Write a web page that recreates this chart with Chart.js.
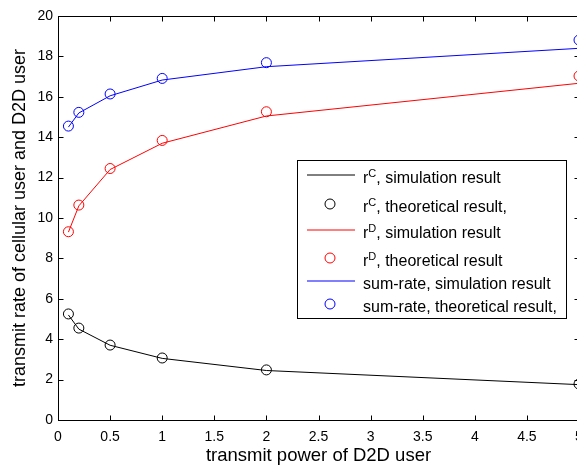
<!DOCTYPE html>
<html>
<head>
<meta charset="utf-8">
<title>Transmit rate vs D2D transmit power</title>
<script src="https://cdn.jsdelivr.net/npm/chart.js@4.4.0/dist/chart.umd.min.js"></script>
<style>
    html, body { margin: 0; padding: 0; background: #fff; overflow: hidden; }
    #wrap { width: 585px; height: 467px; }
</style>
</head>
<body>
<div id="wrap"><canvas id="rateChart" width="585" height="467"></canvas></div>
<script>
// transmit power of the D2D user
const powers = [0.1, 0.2, 0.5, 1, 2, 5];

// cellular user rate r^C
const rcSimulation = [5.2, 4.5, 3.7, 3.05, 2.45, 1.75];
const rcTheory = [5.25, 4.55, 3.71, 3.07, 2.48, 1.78];

// D2D user rate r^D
const rdSimulation = [9.3, 10.6, 12.4, 13.7, 15.05, 16.67];
const rdTheory = [9.32, 10.64, 12.45, 13.84, 15.26, 17.03];

// sum-rate
const sumSimulation = [14.5, 15.2, 16.05, 16.83, 17.49, 18.4];
const sumTheory = [14.55, 15.23, 16.14, 16.91, 17.69, 18.81];

const xTickValues = [0, 0.5, 1, 1.5, 2, 2.5, 3, 3.5, 4, 4.5, 5];
const yTickValues = [0, 2, 4, 6, 8, 10, 12, 14, 16, 18, 20];

// legend text split as [base, superscript, rest]
const legendLabels = [
    ['r', 'C', ', simulation result'],
    ['r', 'C', ', theoretical result,'],
    ['r', 'D', ', simulation result'],
    ['r', 'D', ', theoretical result'],
    ['sum-rate, simulation result', '', ''],
    ['sum-rate, theoretical result,', '', '']
];

const FONT = "'Liberation Sans', Arial, Helvetica, sans-serif";

function points(values) {
    return powers.map((p, i) => ({ x: p, y: values[i] }));
}

function simLine(values, color, i) {
    return {
        label: legendLabels[i].join(''),
        data: points(values),
        showLine: true,
        borderColor: color,
        borderWidth: 1,
        pointRadius: 0,
        tension: 0,
        swatch: color
    };
}

function theoryMarks(values, color, i) {
    return {
        label: legendLabels[i].join(''),
        data: points(values),
        showLine: false,
        pointStyle: 'circle',
        pointRadius: 5,
        pointBorderWidth: 1,
        pointBorderColor: color,
        pointBackgroundColor: 'rgba(0,0,0,0)',
        clip: false,
        swatch: color
    };
}

// box with inward ticks on all four sides, plus the boxed legend
const matlabFrame = {
    id: 'matlabFrame',
    afterDraw(chart) {
        const ctx = chart.ctx;
        const { left, right, top, bottom } = chart.chartArea;
        const xs = chart.scales.x;
        const ys = chart.scales.y;
        const tick = 5;

        ctx.save();
        ctx.strokeStyle = '#000';
        ctx.lineWidth = 1;
        const l = Math.round(left) + 0.5, r = Math.round(right) + 0.5;
        const t = Math.round(top) + 0.5, b = Math.round(bottom) + 0.5;
        ctx.strokeRect(l, t, r - l, b - t);

        ctx.beginPath();
        xTickValues.forEach(v => {
            const px = Math.round(xs.getPixelForValue(v)) + 0.5;
            ctx.moveTo(px, b); ctx.lineTo(px, b - tick);
            ctx.moveTo(px, t); ctx.lineTo(px, t + tick);
        });
        yTickValues.forEach(v => {
            const py = Math.round(ys.getPixelForValue(v)) + 0.5;
            ctx.moveTo(l, py); ctx.lineTo(l + tick, py);
            ctx.moveTo(r, py); ctx.lineTo(r - tick, py);
        });
        ctx.stroke();

        // legend
        const box = { x: 297, y: 160, w: 269, h: 158 };
        const rows = [15, 44, 70, 98, 121, 144];
        ctx.fillStyle = '#fff';
        ctx.fillRect(box.x, box.y, box.w, box.h);
        ctx.strokeStyle = '#000';
        ctx.strokeRect(box.x + 0.5, box.y + 0.5, box.w, box.h);

        chart.data.datasets.forEach((ds, i) => {
            const y = box.y + rows[i];
            ctx.strokeStyle = ds.swatch;
            ctx.beginPath();
            if (ds.showLine) {
                ctx.moveTo(box.x + 10, y);
                ctx.lineTo(box.x + 58, y);
            } else {
                ctx.arc(box.x + 33, y, 5, 0, Math.PI * 2);
            }
            ctx.stroke();

            const [base, sup, rest] = legendLabels[i];
            let tx = box.x + 66;
            const baseline = y + 8;
            ctx.fillStyle = '#000';
            ctx.textBaseline = 'alphabetic';
            ctx.textAlign = 'left';
            ctx.font = '16px ' + FONT;
            ctx.fillText(base, tx, baseline);
            tx += ctx.measureText(base).width;
            if (sup) {
                ctx.font = '11px ' + FONT;
                ctx.fillText(sup, tx, baseline - 6);
                tx += ctx.measureText(sup).width;
            }
            if (rest) {
                ctx.font = '16px ' + FONT;
                ctx.fillText(rest, tx, baseline);
            }
        });
        ctx.restore();
    }
};

const ctx = document.getElementById('rateChart').getContext('2d');

new Chart(ctx, {
    type: 'line',
    data: {
        datasets: [
            simLine(rcSimulation, '#000000', 0),
            theoryMarks(rcTheory, '#000000', 1),
            simLine(rdSimulation, '#ff0000', 2),
            theoryMarks(rdTheory, '#ff0000', 3),
            simLine(sumSimulation, '#0000ff', 4),
            theoryMarks(sumTheory, '#0000ff', 5)
        ]
    },
    options: {
        responsive: false,
        animation: false,
        events: [],
        layout: { padding: { top: 16, right: 2, left: 0, bottom: 0 } },
        plugins: {
            legend: { display: false },
            tooltip: { enabled: false }
        },
        scales: {
            x: {
                type: 'linear',
                min: 0,
                max: 5,
                afterBuildTicks: s => { s.ticks = xTickValues.map(v => ({ value: v })); },
                afterFit: s => { s.height = 47; s.paddingLeft = 0; s.paddingRight = 0; },
                grid: { display: false, drawTicks: false },
                border: { display: false },
                ticks: {
                    autoSkip: false,
                    maxRotation: 0,
                    padding: 9,
                    color: '#000',
                    font: { family: FONT, size: 14 },
                    callback: v => String(v)
                },
                title: {
                    display: true,
                    text: 'transmit power of D2D user',
                    color: '#000',
                    font: { family: FONT, size: 18.5 },
                    padding: { top: 0, bottom: 0 }
                }
            },
            y: {
                type: 'linear',
                min: 0,
                max: 20,
                afterBuildTicks: s => { s.ticks = yTickValues.map(v => ({ value: v })); },
                afterFit: s => { s.width = 58; s.paddingTop = 0; s.paddingBottom = 0; },
                grid: { display: false, drawTicks: false },
                border: { display: false },
                ticks: {
                    padding: 5,
                    color: '#000',
                    font: { family: FONT, size: 14 },
                    callback: v => String(v)
                },
                title: {
                    display: true,
                    text: 'transmit rate of cellular user and D2D user',
                    color: '#000',
                    font: { family: FONT, size: 18 },
                    padding: { top: 9, bottom: 0 }
                }
            }
        }
    },
    plugins: [matlabFrame]
});
</script>
</body>
</html>
